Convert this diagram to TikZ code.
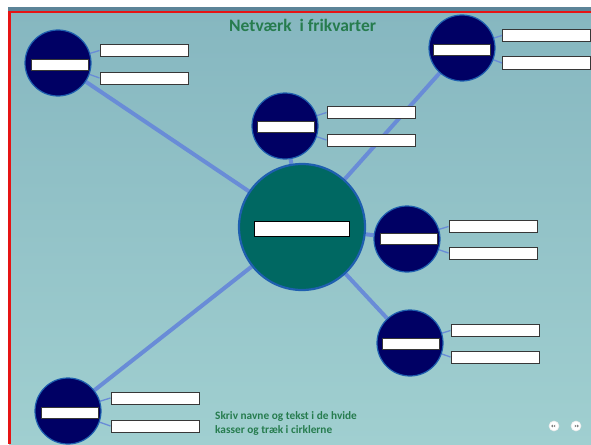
\documentclass[tikz,border=0pt]{standalone}
\usepackage{fontspec}
\setmainfont{Carlito}
\usetikzlibrary{shapes.geometric,calc}
\pgfdeclarelayer{bg}
\pgfsetlayers{bg,main}
\definecolor{bgtop}{RGB}{134,183,192}
\definecolor{bgbot}{RGB}{160,207,208}
\definecolor{navy}{RGB}{0,0,100}
\definecolor{ringblue}{RGB}{30,95,175}
\definecolor{tealc}{RGB}{0,104,98}
\definecolor{linkblue}{RGB}{105,140,215}
\definecolor{titlegreen}{RGB}{38,124,78}
\definecolor{bandgray}{RGB}{92,132,152}
\definecolor{framered}{RGB}{230,20,20}
\definecolor{boxedge}{RGB}{55,55,55}
\tikzset{
  member/.style={circle, fill=navy, draw=ringblue, line width=1.2pt, minimum size=66pt, inner sep=0pt},
  hub/.style={circle, fill=tealc, draw=ringblue, line width=2.2pt, minimum size=126pt, inner sep=0pt},
  bar/.style={rectangle, fill=white, draw=boxedge, line width=0.6pt, minimum width=57pt, minimum height=11pt, inner sep=0pt},
  hubbar/.style={rectangle, fill=white, draw=black, line width=0.9pt, minimum width=95pt, minimum height=15pt, inner sep=0pt},
  textbox/.style={rectangle, fill=white, draw=boxedge, line width=1pt, minimum width=88pt, minimum height=12pt, inner sep=0pt},
  spoke/.style={draw=linkblue, line width=4pt},
  twig/.style={draw=linkblue, line width=1.3pt},
  navbtn/.style={circle, fill=white, draw=white!85!gray, line width=0.6pt, minimum size=10pt, inner sep=0pt},
  greentext/.style={text=titlegreen, inner sep=0pt, font=\bfseries}
}
\begin{document}
\begin{tikzpicture}[x=1pt,y=-1pt]
\useasboundingbox (0,0) rectangle (591,444);

% hub and members
\node[hub] (hub) at (302,227) {};
\node[hubbar] (hubbar) at (302,228.5) {};

\node[member] (m1) at (58,63) {};
\node[bar] (bar1) at (60,64.5) {};
\node[textbox] (b1a) at (144,50.5) {};
\node[textbox] (b1b) at (144,78) {};

\node[member] (m2) at (462,48) {};
\node[bar] (bar2) at (462,49.5) {};
\node[textbox] (b2a) at (546.5,35.5) {};
\node[textbox] (b2b) at (546.5,63) {};

\node[member] (m3) at (285,126) {};
\node[bar] (bar3) at (285.5,126.5) {};
\node[textbox] (b3a) at (371,112.5) {};
\node[textbox] (b3b) at (371,140) {};

\node[member] (m4) at (407,239) {};
\node[bar] (bar4) at (408.5,238.5) {};
\node[textbox] (b4a) at (493,226.5) {};
\node[textbox] (b4b) at (493,253) {};

\node[member] (m5) at (410,343) {};
\node[bar] (bar5) at (411,343.5) {};
\node[textbox] (b5a) at (495,330.5) {};
\node[textbox] (b5b) at (495,357) {};

\node[member] (m6) at (68,411) {};
\node[bar] (bar6) at (70,412.5) {};
\node[textbox] (b6a) at (155,398) {};
\node[textbox] (b6b) at (155,426) {};

% texts
\node[greentext, anchor=base west, font=\bfseries\fontsize{17.5}{20}\selectfont] (title) at (229,32) {Netværk\ \ i frikvarter};
\node[greentext, anchor=base west, font=\bfseries\fontsize{11.3}{13}\selectfont] (hint1) at (215,419) {Skriv navne og tekst i de hvide};
\node[greentext, anchor=base west, font=\bfseries\fontsize{11.3}{13}\selectfont] (hint2) at (215,433) {kasser og træk i cirklerne};

% navigation buttons
\node[navbtn] (prev) at (554,426) {};
\node[navbtn] (next) at (576,426) {};
\fill[gray] ($(prev)+(-3,0)$) -- ++(1.8,-1.3) -- ++(0,2.6) -- cycle;
\fill[gray] ($(prev)+(-0.6,0)$) -- ++(1.8,-1.3) -- ++(0,2.6) -- cycle;
\fill[gray] ($(next)+(3,0)$) -- ++(-1.8,-1.3) -- ++(0,2.6) -- cycle;
\fill[gray] ($(next)+(0.6,0)$) -- ++(-1.8,-1.3) -- ++(0,2.6) -- cycle;

\begin{pgfonlayer}{bg}
  \fill[white] (0,0) rectangle (591,444);
  \shade[top color=bgtop, bottom color=bgbot] (9,12) rectangle (591,444);
  \fill[bandgray] (8,7) rectangle (591,11);
  \fill[framered] (8,11) rectangle (591,13);
  \fill[framered] (8,11) rectangle (10.5,444);
  % spokes
  \draw[spoke] (hub) -- (m1);
  \draw[spoke] (hub) -- (m2);
  \draw[spoke] (hub) -- (m3);
  \draw[spoke] (hub) -- (m4);
  \draw[spoke] (hub) -- (m5);
  \draw[spoke] (hub) -- (m6);
  % twigs
  \draw[twig] (m1) -- (b1a.west);
  \draw[twig] (m1) -- (b1b.west);
  \draw[twig] (m2) -- (b2a.west);
  \draw[twig] (m2) -- (b2b.west);
  \draw[twig] (m3) -- (b3a.west);
  \draw[twig] (m3) -- (b3b.west);
  \draw[twig] (m4) -- (b4a.west);
  \draw[twig] (m4) -- (b4b.west);
  \draw[twig] (m5) -- (b5a.west);
  \draw[twig] (m5) -- (b5b.west);
  \draw[twig] (m6) -- (b6a.west);
  \draw[twig] (m6) -- (b6b.west);
\end{pgfonlayer}
\end{tikzpicture}
\end{document}
